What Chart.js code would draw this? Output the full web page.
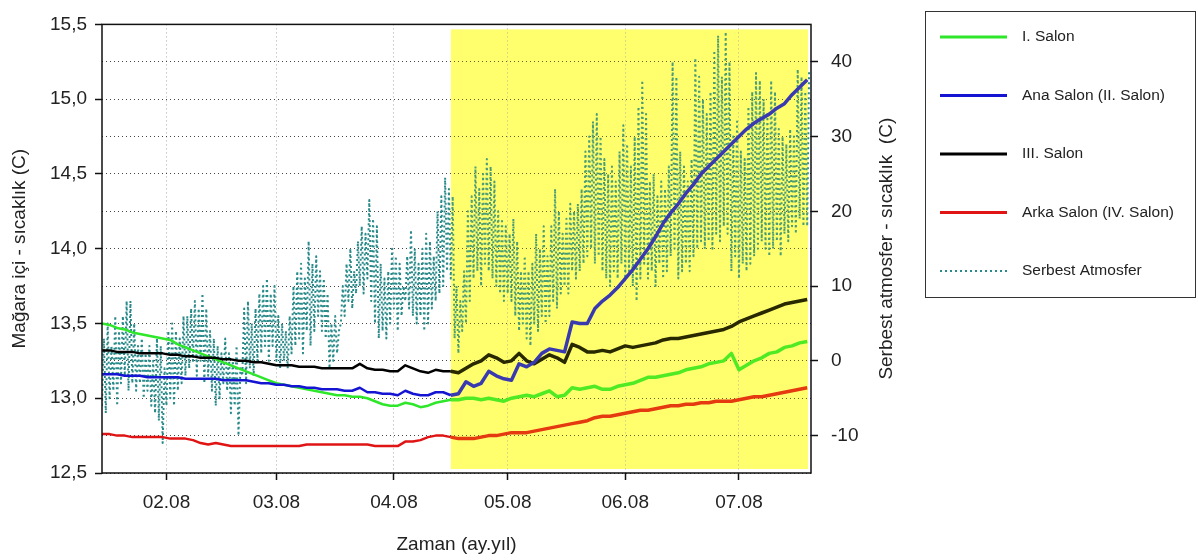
<!DOCTYPE html>
<html>
<head>
<meta charset="utf-8">
<title>Mağara içi ve serbest atmosfer sıcaklıkları</title>
<script src="https://cdn.jsdelivr.net/npm/chart.js@4.4.1/dist/chart.umd.min.js"></script>
<style>
  html, body { margin: 0; padding: 0; background: #fff; }
  canvas { display: block; }
</style>
</head>
<body>
<canvas id="chart" width="1198" height="560"></canvas>
<script>
// x değerleri: gün (1 Ocak 2008 = 0). Mağara ölçümleri 2 günde bir okundu.
const caveStartDay = 14;
const caveStepDays = 2;

const salon1 = [
  13.50, 13.49, 13.47, 13.46, 13.44, 13.43, 13.42, 13.41, 13.40, 13.39,
  13.36, 13.34, 13.32, 13.30, 13.28, 13.26, 13.24, 13.22, 13.20, 13.18,
  13.16, 13.14, 13.12, 13.10, 13.09, 13.08, 13.07, 13.06, 13.05, 13.04,
  13.03, 13.02, 13.02, 13.01, 13.01, 13.00, 12.98, 12.96, 12.95, 12.95,
  12.97, 12.96, 12.94, 12.95, 12.97, 12.98, 12.99, 12.99, 13.00, 13.00,
  12.99, 13.00, 12.99, 12.98, 13.00, 13.01, 13.02, 13.01, 13.03, 13.05,
  13.01, 13.02, 13.07, 13.06, 13.07, 13.08, 13.06, 13.06, 13.08, 13.09,
  13.10, 13.12, 13.14, 13.14, 13.15, 13.16, 13.17, 13.19, 13.20, 13.21,
  13.23, 13.24, 13.25, 13.30, 13.19, 13.22, 13.25, 13.27, 13.30, 13.31,
  13.34, 13.35, 13.37, 13.38
];

const anaSalon = [
  13.16, 13.16, 13.16, 13.15, 13.15, 13.15, 13.14, 13.14, 13.14, 13.14,
  13.14, 13.13, 13.13, 13.13, 13.13, 13.13, 13.12, 13.12, 13.12, 13.12,
  13.11, 13.10, 13.10, 13.09, 13.09, 13.08, 13.08, 13.07, 13.07, 13.06,
  13.06, 13.06, 13.05, 13.05, 13.07, 13.04, 13.04, 13.03, 13.03, 13.02,
  13.05, 13.03, 13.02, 13.02, 13.04, 13.04, 13.02, 13.03, 13.11, 13.08,
  13.10, 13.18, 13.15, 13.13, 13.12, 13.23, 13.21, 13.24, 13.30, 13.33,
  13.32, 13.31, 13.51, 13.50, 13.50, 13.60, 13.65, 13.69, 13.74, 13.80,
  13.86, 13.93, 14.00, 14.08, 14.17, 14.24, 14.30, 14.37, 14.43, 14.50,
  14.55, 14.60, 14.65, 14.70, 14.75, 14.80, 14.84, 14.87, 14.90, 14.94,
  14.97, 15.03, 15.08, 15.13
];

const salon3 = [
  13.32, 13.32, 13.31, 13.31, 13.31, 13.30, 13.30, 13.30, 13.30, 13.29,
  13.29, 13.28, 13.28, 13.27, 13.27, 13.27, 13.26, 13.26, 13.25, 13.25,
  13.24, 13.24, 13.23, 13.22, 13.22, 13.22, 13.21, 13.21, 13.21, 13.20,
  13.20, 13.20, 13.20, 13.20, 13.23, 13.20, 13.19, 13.19, 13.18, 13.18,
  13.22, 13.20, 13.18, 13.17, 13.19, 13.18, 13.18, 13.17, 13.20, 13.23,
  13.25, 13.29, 13.27, 13.24, 13.25, 13.30, 13.25, 13.23, 13.26, 13.29,
  13.27, 13.24, 13.36, 13.34, 13.31, 13.31, 13.32, 13.31, 13.33, 13.35,
  13.34, 13.35, 13.36, 13.37, 13.39, 13.40, 13.40, 13.41, 13.42, 13.43,
  13.44, 13.45, 13.46, 13.48, 13.51, 13.53, 13.55, 13.57, 13.59, 13.61,
  13.63, 13.64, 13.65, 13.66
];

const arkaSalon = [
  12.76, 12.76, 12.75, 12.75, 12.74, 12.74, 12.74, 12.74, 12.74, 12.73,
  12.73, 12.73, 12.72, 12.70, 12.69, 12.70, 12.69, 12.68, 12.68, 12.68,
  12.68, 12.68, 12.68, 12.68, 12.68, 12.68, 12.68, 12.69, 12.69, 12.69,
  12.69, 12.69, 12.69, 12.69, 12.69, 12.69, 12.68, 12.68, 12.68, 12.68,
  12.71, 12.71, 12.72, 12.74, 12.75, 12.75, 12.74, 12.73, 12.73, 12.73,
  12.74, 12.75, 12.75, 12.76, 12.77, 12.77, 12.77, 12.78, 12.79, 12.80,
  12.81, 12.82, 12.83, 12.84, 12.85, 12.87, 12.88, 12.88, 12.89, 12.90,
  12.91, 12.92, 12.92, 12.93, 12.94, 12.95, 12.95, 12.96, 12.96, 12.97,
  12.97, 12.98, 12.98, 12.98, 12.99, 13.00, 13.01, 13.01, 13.02, 13.03,
  13.04, 13.05, 13.06, 13.07
];

// Serbest atmosfer: her gün için en düşük ve en yüksek değer (sağ eksen)
const atmosStartDay = 14;
const atmosHigh = [
  3, 5, 2, 6, 4, 6, 8, 8, 5, 2,
  3, 1, 2, 0, 3, 2, -1, 4, 5, 4,
  3, 6, 6, 7, 8, 7, 9, 7, 4, 3,
  2, 1, 3, 1, 0, 2, -1, 7, 8, 5,
  7, 9, 10, 11, 9, 10, 6, 5, 4, 6,
  10, 12, 13, 11, 16, 13, 14, 12, 11, 9,
  5, 6, 4, 10, 13, 15, 12, 16, 18, 17,
  21.5, 19, 18, 13, 11, 12, 15, 14, 13, 10,
  14, 17.5, 15, 13, 15, 17, 16, 14, 20, 22,
  24.5, 23, 22, 10, 8, 12, 20, 22, 26, 23,
  25, 27, 26, 24, 20, 19, 18, 17, 19, 16,
  12, 14, 12, 13, 17, 15, 18, 14, 18, 23,
  20, 17, 19, 21, 20, 21, 23, 28, 30, 32,
  33, 30, 27, 25, 26, 24, 28, 31.5, 29, 26,
  30, 34, 37.5, 33, 24, 25, 22, 24, 23, 26,
  40, 38, 28, 26, 24, 27, 40.5, 38, 35, 33,
  36, 41.5, 43.5, 38, 44, 40, 30, 32, 28, 27,
  34, 36, 38.5, 37.5, 35, 33, 37.5, 36, 31, 30,
  29, 31, 30, 39, 38, 36, 39
];
const atmosLow = [
  -6, -7, -5, -4, -6, -3, -2, -4, -3, -4,
  -3, -5, -4, -6, -7, -8, -11, -6, -5, -6,
  -4, -3, -2, -1, 0, -2, 0, -3, -2, -4,
  -6, -5, -3, -4, -7, -6, -10, -2, -3, -1,
  -2, 0, 1, 2, 0, 2, 0, -1, 0, -1,
  1, 2, 3, 1, 4, 2, 4, 6, 4, 3,
  -1, 0, 1, 5, 6, 8, 7, 9, 10, 9,
  11, 8, 5, 3, 4, 3, 5, 7, 4, 6,
  8, 7, 6, 5, 6, 4, 5, 7, 8, 9,
  10, 12, 11, 3, 1, 4, 5, 8, 11, 12,
  10, 13, 12, 11, 10, 9, 8, 9, 8, 6,
  4, 5, 3, 2, 5, 4, 6, 5, 6, 8,
  7, 9, 10, 9, 12, 11, 12, 13, 14, 15,
  13, 14, 12, 11, 10, 12, 11, 13, 11, 12,
  10, 8, 11, 13, 11, 12, 10, 13, 11, 12,
  14, 15, 11, 12, 13, 12, 14, 15, 16, 15,
  16, 15, 17, 16, 18, 17, 12, 14, 11, 13,
  12, 13, 14, 15, 16, 15, 14, 15, 16, 14,
  17, 16, 18, 17, 19, 18, 18
];

const monthTicks = [31, 60, 91, 121, 152, 182];
const monthLabels = ["02.08", "03.08", "04.08", "05.08", "06.08", "07.08"];
const leftTicks = [12.5, 12.75, 13, 13.25, 13.5, 13.75, 14, 14.25, 14.5, 14.75, 15, 15.25, 15.5];
const rightTicks = [-10, 0, 10, 20, 30, 40];
const shadedFrom = 106;   // 16 Nisan
const shadedTo = 200.2;

const FONT = '"Liberation Sans", Arial, sans-serif';

function cavePoints(values) {
  return values.map((v, i) => ({ x: caveStartDay + i * caveStepDays, y: v }));
}

const atmosPoints = [];
atmosHigh.forEach((h, i) => {
  const day = atmosStartDay + i;
  atmosPoints.push({ x: day, y: atmosLow[i] });
  atmosPoints.push({ x: day + 0.5, y: h });
});

function isMajor(v) {
  return Math.abs(v * 2 - Math.round(v * 2)) < 0.001;
}

function shadeRect(chart) {
  const x = chart.scales.x;
  const area = chart.chartArea;
  const left = x.getPixelForValue(shadedFrom);
  const right = x.getPixelForValue(shadedTo);
  return { left, top: area.top + 5, width: right - left, height: area.bottom - area.top - 9 };
}

// sarı bölge: altta dolgu, çizgilerin üstünde hafif sarı örtü
const shading = {
  id: "shading",
  beforeDraw(chart) {
    const r = shadeRect(chart);
    chart.ctx.save();
    chart.ctx.fillStyle = "#ffff84";
    chart.ctx.fillRect(r.left, r.top, r.width, r.height);
    chart.ctx.restore();
  },
  afterDatasetsDraw(chart) {
    const r = shadeRect(chart);
    chart.ctx.save();
    chart.ctx.globalAlpha = 0.16;
    chart.ctx.fillStyle = "#ffff00";
    chart.ctx.fillRect(r.left, r.top, r.width, r.height);
    chart.ctx.restore();
  }
};

// çerçeve, sağ eksen başlığı ve kutulu açıklama
const frameAndLegend = {
  id: "frameAndLegend",
  afterDraw(chart) {
    const c = chart.ctx;
    const a = chart.chartArea;
    c.save();
    c.strokeStyle = "#111";
    c.lineWidth = 1.5;
    c.strokeRect(a.left, a.top, a.right - a.left, a.bottom - a.top);

    c.fillStyle = "#222";
    c.font = "19px " + FONT;
    c.textAlign = "center";
    c.textBaseline = "middle";
    c.translate(887, (a.top + a.bottom) / 2);
    c.rotate(-Math.PI / 2);
    c.fillText("Serbest atmosfer - sıcaklık  (C)", 0, 0);
    c.restore();

    c.save();
    c.strokeStyle = "#333";
    c.lineWidth = 1;
    c.strokeRect(925.5, 11.5, 270, 286);
    c.font = "15.5px " + FONT;
    c.textBaseline = "middle";
    chart.data.datasets.forEach((ds, i) => {
      const y = 37 + i * 58.5;
      c.beginPath();
      c.setLineDash(ds.borderDash || []);
      c.strokeStyle = ds.borderColor;
      c.lineWidth = ds.borderDash ? 2 : 3;
      c.moveTo(940, y);
      c.lineTo(1007, y);
      c.stroke();
      c.setLineDash([]);
      c.fillStyle = "#222";
      c.fillText(ds.label, 1022, y);
    });
    c.restore();
  }
};

function caveDataset(label, values, color, order) {
  return {
    label: label,
    data: cavePoints(values),
    borderColor: color,
    borderWidth: 2.5,
    order: order,
    segment: {
      borderColor: () => color,
      borderWidth: s => (s.p0.parsed.x >= shadedFrom ? 3.5 : 2.5)
    }
  };
}

new Chart(document.getElementById("chart"), {
  type: "line",
  data: {
    datasets: [
      caveDataset("I. Salon", salon1, "#2ee62a", 3),
      caveDataset("Ana Salon (II. Salon)", anaSalon, "#1414d2", 1),
      caveDataset("III. Salon", salon3, "#000000", 2),
      caveDataset("Arka Salon (IV. Salon)", arkaSalon, "#e01414", 4),
      {
        label: "Serbest Atmosfer",
        data: atmosPoints,
        yAxisID: "y2",
        borderColor: "#2a8a8a",
        borderWidth: 2,
        borderDash: [2, 3],
        order: 10
      }
    ]
  },
  options: {
    responsive: false,
    animation: false,
    events: [],
    layout: { padding: { left: 0, right: 287, top: 11, bottom: 0 } },
    elements: {
      point: { radius: 0 },
      line: { tension: 0, borderJoinStyle: "round" }
    },
    plugins: {
      legend: { display: false },
      tooltip: { enabled: false }
    },
    scales: {
      x: {
        type: "linear",
        min: 14,
        max: 201,
        afterBuildTicks: axis => { axis.ticks = monthTicks.map(v => ({ value: v })); },
        afterFit: axis => { axis.height = 87; },
        ticks: {
          autoSkip: false,
          maxRotation: 0,
          padding: 11,
          color: "#222",
          font: { family: FONT, size: 19 },
          callback: v => monthLabels[monthTicks.indexOf(v)]
        },
        grid: { color: "#aaa", tickColor: "#111", tickLength: 7, tickWidth: 1.5 },
        border: { display: false, dash: [1, 3] },
        title: {
          display: true,
          text: "Zaman (ay.yıl)",
          color: "#222",
          font: { family: FONT, size: 19 },
          padding: { top: 0, bottom: 4 }
        }
      },
      y: {
        type: "linear",
        position: "left",
        min: 12.5,
        max: 15.5,
        afterBuildTicks: axis => { axis.ticks = leftTicks.map(v => ({ value: v })); },
        afterFit: axis => { axis.width = 102; },
        ticks: {
          padding: 8,
          color: "#222",
          font: { family: FONT, size: 19 },
          callback: v => (isMajor(v) ? v.toFixed(1).replace(".", ",") : "")
        },
        grid: {
          color: "#444",
          tickLength: 7,
          tickWidth: 1.5,
          tickColor: c => (c.tick && isMajor(c.tick.value) ? "#111" : "rgba(0,0,0,0)")
        },
        border: { display: false, dash: [1, 3] },
        title: {
          display: true,
          text: "Mağara içi - sıcaklık (C)",
          color: "#222",
          font: { family: FONT, size: 19 },
          padding: { top: 8, bottom: 0 }
        }
      },
      y2: {
        type: "linear",
        position: "right",
        min: -15,
        max: 45,
        afterBuildTicks: axis => { axis.ticks = rightTicks.map(v => ({ value: v })); },
        afterFit: axis => { axis.width = 100; },
        ticks: {
          padding: 13,
          color: "#222",
          font: { family: FONT, size: 19 },
          callback: v => String(v)
        },
        grid: { drawOnChartArea: false, tickColor: "#111", tickLength: 7, tickWidth: 1.5 },
        border: { display: false }
      }
    }
  },
  plugins: [shading, frameAndLegend]
});
</script>
</body>
</html>
